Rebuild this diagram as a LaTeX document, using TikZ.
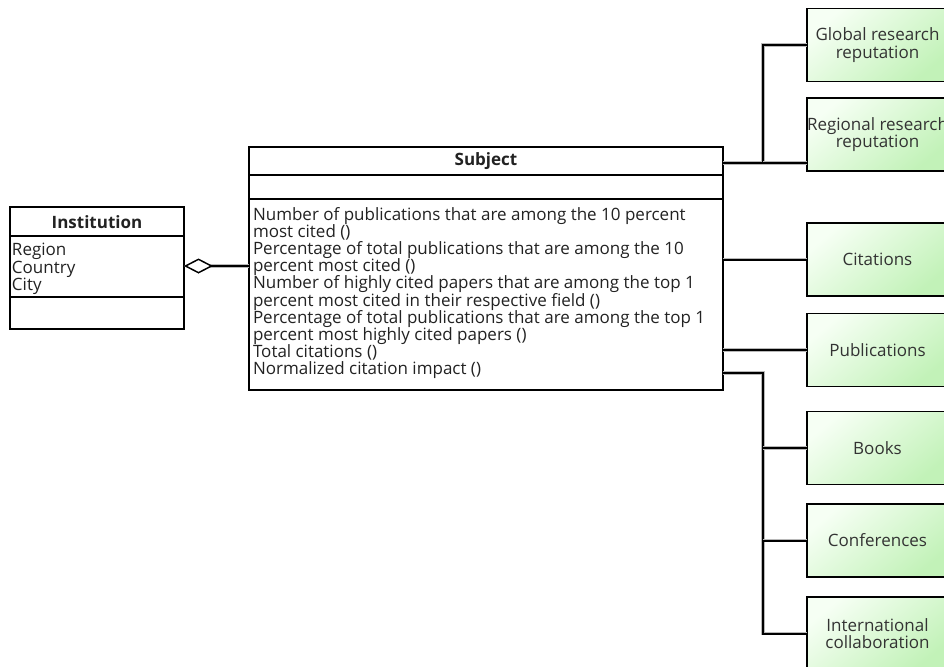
\documentclass[tikz,border=0pt]{standalone}
\usepackage{fontspec}
\setmainfont{Open Sans}
\usetikzlibrary{arrows.meta}
\definecolor{gdark}{HTML}{C2F2B8}
\definecolor{glight}{HTML}{F6FFF4}
\definecolor{ink}{HTML}{222222}
\begin{document}
\begin{tikzpicture}[x=1pt,y=-1pt,
  every node/.style={inner sep=0pt, outer sep=0pt, text=ink},
  txt/.style={font=\fontsize{17}{17.2}\selectfont},
  umlbox/.style={draw=black, line width=1.6pt, fill=white, anchor=north west},
  sep/.style={line width=1.4pt},
  metric/.style={draw=black, line width=1.6pt, shading=axis, top color=glight,
    bottom color=gdark, shading angle=40, minimum width=141pt, minimum height=73pt,
    align=center, txt, text=black!80},
  link/.style={line width=2pt, preaction={draw=black!28, line width=3.8pt}}]
\useasboundingbox (0,0) rectangle (944,666);

% Institution class
\node[umlbox, minimum width=174pt, minimum height=122pt] (inst) at (10,207) {};
\draw[sep] (10,236) -- (184,236);
\draw[sep] (10,297) -- (184,297);
\node[txt, font=\fontsize{17}{17.2}\selectfont\bfseries] (insttitle) at (97,222) {Institution};
\node[txt, anchor=north west, align=left] (instattr) at (12,243.5)
  {Region\\Country\\City};

% Subject class
\node[umlbox, minimum width=474pt, minimum height=243pt] (subject) at (249,147) {};
\draw[sep] (249,175) -- (723,175);
\draw[sep] (249,199) -- (723,199);
\node[txt, font=\fontsize{17}{17.2}\selectfont\bfseries] (subjtitle) at (486,161) {Subject};
\node[txt, anchor=north west, align=left] (subjattr) at (253,207)
  {Number of publications that are among the 10 percent\\
   most cited ()\\
   Percentage of total publications that are among the 10\\
   percent most cited ()\\
   Number of highly cited papers that are among the top 1\\
   percent most cited in their respective field ()\\
   Percentage of total publications that are among the top 1\\
   percent most highly cited papers ()\\
   Total citations ()\\
   Normalized citation impact ()};

% Indicator boxes
\node[metric] (glob) at (877.5,45)    {Global research\\reputation};
\node[metric] (reg)  at (877.5,134.5) {Regional research\\reputation};
\node[metric] (cit)  at (877.5,259.5) {Citations};
\node[metric] (pub)  at (877.5,350)   {Publications};
\node[metric] (book) at (877.5,448)   {Books};
\node[metric] (conf) at (877.5,540.5) {Conferences};
\node[metric] (intl) at (877.5,633.5) {International\\collaboration};

% Aggregation: Subject -> Institution
\draw[link, -{Diamond[open, length=29pt, width=15pt, line width=1.4pt]}]
  (subject.west |- 0,266) -- (inst.east |- 0,266);

% Upper bus
\coordinate (ua) at (subject.east |- 0,163);
\coordinate (ub) at (763,163);
\draw[link] (ua) -- (ub) |- (glob.west);
\draw[link] (ub) -- (reg.west |- ub);

% Direct links
\draw[link] (subject.east |- cit.west) -- (cit.west);
\draw[link] (subject.east |- pub.west) -- (pub.west);

% Lower bus
\coordinate (la) at (subject.east |- 0,373);
\coordinate (lb) at (763,373);
\draw[link] (la) -- (lb) |- (intl.west);
\draw[link] (lb |- book.west) -- (book.west);
\draw[link] (lb |- conf.west) -- (conf.west);
\end{tikzpicture}
\end{document}
